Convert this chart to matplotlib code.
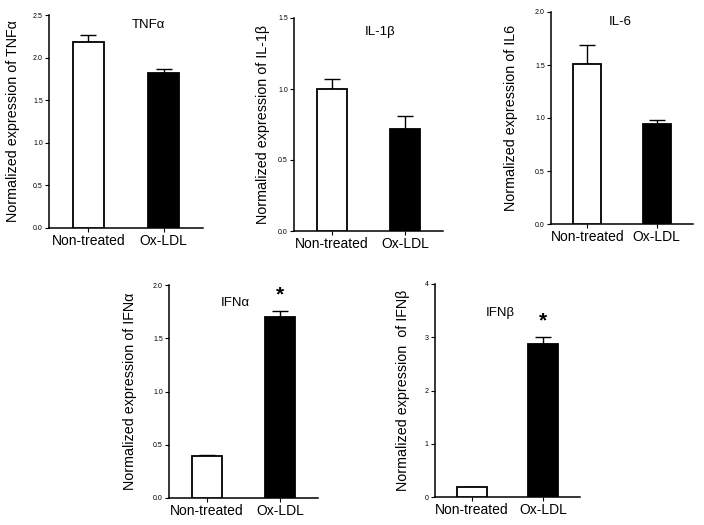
import matplotlib
matplotlib.use('Agg')
import matplotlib.pyplot as plt

plt.rcParams['font.family'] = ['Liberation Sans', 'DejaVu Sans']

groups = ['Non-treated', 'Ox-LDL']

genes = ['TNFα', 'IL-1β', 'IL-6', 'IFNα', 'IFNβ']
ylabels = ['Normalized expression of TNFα',
           'Normalized expression of IL-1β',
           'Normalized expression of IL6',
           'Normalized expression of IFNα',
           'Normalized expression  of IFNβ']

means = [[2.18, 1.82],
         [1.00, 0.72],
         [1.51, 0.94],
         [0.39, 1.70],
         [0.18, 2.87]]
errors = [[0.09, 0.05],
          [0.07, 0.09],
          [0.18, 0.04],
          [0.01, 0.06],
          [0.0, 0.13]]
ymax = [2.5, 1.5, 2.0, 2.0, 4]
yticks = [[0.0, 0.5, 1.0, 1.5, 2.0, 2.5],
          [0.0, 0.5, 1.0, 1.5],
          [0.0, 0.5, 1.0, 1.5, 2.0],
          [0.0, 0.5, 1.0, 1.5, 2.0],
          [0, 1, 2, 3, 4]]
tick_fmt = ['{:.1f}', '{:.1f}', '{:.1f}', '{:.1f}', '{:.0f}']
significant = [[False, False], [False, False], [False, False],
               [False, True], [False, True]]

# layout in pixels: left, top, right, bottom of each axes
W, H = 704, 525
boxes = [(49, 15, 203, 228),
         (294, 18, 443, 231),
         (551, 12, 693, 224),
         (169, 285, 318, 498),
         (435, 284, 580, 497)]
title_pos = [(148, 25), (380, 32), (620, 22), (235, 303), (500, 313)]
ylabel_x = [20, 270, 518, 137, 410]

fig = plt.figure(figsize=(W / 100, H / 100), dpi=100)

for i in range(5):
    l, t, r, b = boxes[i]
    ax = fig.add_axes([l / W, 1 - b / H, (r - l) / W, (b - t) / H])
    colors = ['white', 'black']
    ax.bar([0, 1], means[i], width=0.41, color=colors, edgecolor='black',
           linewidth=1.3, zorder=3)
    ax.errorbar([0, 1], means[i], yerr=[[0, 0], errors[i]], fmt='none',
                ecolor='black', elinewidth=1.0, capsize=6, capthick=1.0,
                zorder=2)
    ax.set_xlim(-0.52, 1.52)
    ax.set_ylim(0, ymax[i])
    ax.set_yticks(yticks[i])
    ax.set_yticklabels([tick_fmt[i].format(v) for v in yticks[i]], fontsize=5)
    ax.set_xticks([0, 1])
    ax.set_xticklabels(groups, fontsize=10)
    ax.tick_params(axis='y', length=3, width=0.8, pad=1.5)
    ax.tick_params(axis='x', length=3, width=0.8, pad=1)
    for s in ['top', 'right']:
        ax.spines[s].set_visible(False)
    for s in ['left', 'bottom']:
        ax.spines[s].set_linewidth(1.1)
    ax.set_ylabel(ylabels[i], fontsize=10.3)
    ax.yaxis.set_label_coords((ylabel_x[i] - l) / (r - l), 0.5)
    tx, ty = title_pos[i]
    ax.text((tx - l) / (r - l), (b - ty) / (b - t), genes[i], fontsize=9.5,
            ha='center', va='center', transform=ax.transAxes)
    for j in range(2):
        if significant[i][j]:
            ax.text(j, means[i][j] + errors[i][j] + ymax[i] * 0.03, '*',
                    fontsize=15, fontweight='bold', ha='center', va='bottom')

fig.savefig('out.png', dpi=100)
